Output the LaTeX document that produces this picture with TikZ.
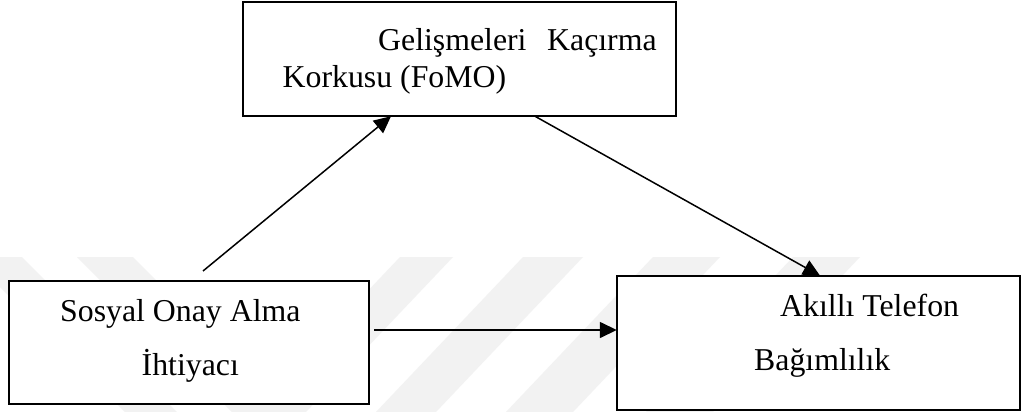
\documentclass[tikz,border=0pt]{standalone}
\usepackage{fontspec}
\setmainfont{Liberation Serif}
\usetikzlibrary{arrows.meta,calc}
\begin{document}
\begin{tikzpicture}[x=1pt,y=-1pt,
  box/.style={draw=black,line width=1.7pt,fill=white},
  lbl/.style={anchor=base west,inner sep=0pt,font=\fontsize{31.8}{38}\selectfont},
  arr/.style={line width=1.5pt,-{Triangle[length=17pt,width=16pt]}},
  wm/.style={fill=black!5,draw=none}]
\path[use as bounding box,fill=white] (0,0) rectangle (1022,412);
% faint watermark stripes
\fill[wm] (-30,257) -- (22,257) -- (177,412) -- (125,412) -- cycle;
\fill[wm] (77,257) -- (133,257) -- (288,412) -- (232,412) -- cycle;
\fill[wm] (400,257) -- (453,257) -- (306,412) -- (253,412) -- cycle;
\fill[wm] (523,257) -- (583,257) -- (436,412) -- (376,412) -- cycle;
\fill[wm] (653,257) -- (720,257) -- (573,412) -- (506,412) -- cycle;
\fill[wm] (793,257) -- (860,257) -- (713,412) -- (646,412) -- cycle;
% boxes
\path[box] (243,2) rectangle (676,116);
\node[inner sep=0pt,minimum width=433pt,minimum height=114pt] (top) at (459.5,59) {};
\path[box] (9,281) rectangle (369,404);
\node[inner sep=0pt,minimum width=360pt,minimum height=123pt] (left) at (189,342.5) {};
\path[box] (617,276) rectangle (1020,410);
\node[inner sep=0pt,minimum width=403pt,minimum height=134pt] (right) at (818.5,343) {};
% texts
\node[lbl] (t1) at (378,50.5) {Gelişmeleri};
\node[lbl] (t1b) at (547,50.5) {Kaçırma};
\node[lbl] (t2) at (282.5,87.5) {Korkusu (FoMO)};
\node[lbl] (l1) at (60,321) {Sosyal Onay Alma};
\node[lbl] (l2) at (141.5,375.5) {İhtiyacı};
\node[lbl] (r1) at (780,316) {Akıllı Telefon};
\node[lbl] (r2) at (754,370) {Bağımlılık};
% connectors
\coordinate (s1) at (203,271);
\draw[arr] (s1) -- ($(top.south west)!0.342!(top.south east)$);
\draw[arr] ($(top.south west)!0.674!(top.south east)$) -- ($(right.north west)!0.504!(right.north east)$);
\draw[arr] ([xshift=5pt,yshift=12.5pt]left.east) -- ([yshift=13pt]right.west);
\end{tikzpicture}
\end{document}
